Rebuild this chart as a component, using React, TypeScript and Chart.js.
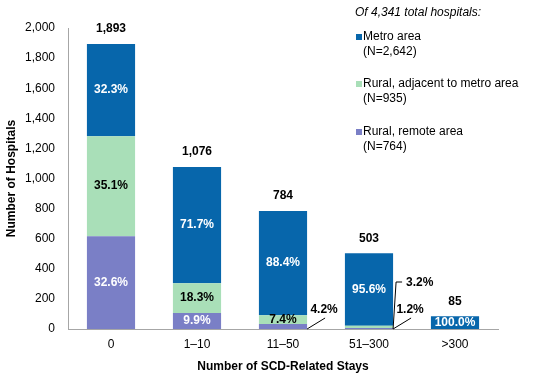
import React, { useEffect, useRef } from "react";
import { Chart, registerables } from "chart.js";

Chart.register(...registerables);

const categories = ["0", "1–10", "11–50", "51–300", ">300"];
const remoteValues = [617, 107, 33, 6, 0];
const adjacentValues = [664, 197, 58, 16, 0];
const metroValues = [612, 772, 693, 481, 85];
const yTicks = [0, 200, 400, 600, 800, 1000, 1200, 1400, 1600, 1800, 2000];

const seriesNames = ["Rural, remote area", "Rural, adjacent to metro area", "Metro area"];
const seriesN = ["(N=764)", "(N=935)", "(N=2,642)"];
const legendTitle = "Of 4,341 total hospitals:";
const COLORS = ["#7A7FC6", "#A9DFB8", "#0766AB"];
const LABEL_COLORS = ["#FFFFFF", "#000000", "#FFFFFF"];
const FONT = '"Liberation Sans", Arial, sans-serif';

const totals = categories.map((_, i) => remoteValues[i] + adjacentValues[i] + metroValues[i]);

const labelPlugin = {
  id: "segLabels",
  afterDatasetsDraw(chart: any) {
    const ctx = chart.ctx;
    const ys = chart.scales.y;
    const baseY = ys.getPixelForValue(0);
    ctx.save();
    ctx.font = `bold 12px ${FONT}`;
    ctx.textBaseline = "middle";
    categories.forEach((_, i) => {
      const total = totals[i];
      let callouts = 0;
      let cx = 0;
      chart.data.datasets.forEach((ds: any, di: number) => {
        const v = ds.data[i];
        const bar = chart.getDatasetMeta(di).data[i];
        const p = bar.getProps(["x", "y", "base", "width"], true);
        cx = p.x;
        if (!v) return;
        const pct = ((v / total) * 100).toFixed(1) + "%";
        const h = Math.abs(p.base - p.y);
        if (h >= 8) {
          ctx.fillStyle = LABEL_COLORS[di];
          ctx.textAlign = "center";
          ctx.fillText(pct, p.x, (p.y + p.base) / 2);
        } else {
          const right = p.x + p.width / 2;
          ctx.strokeStyle = "#000";
          ctx.lineWidth = 1;
          ctx.fillStyle = "#000";
          ctx.beginPath();
          if (callouts === 0) {
            ctx.moveTo(right, baseY);
            ctx.lineTo(right + 18, baseY - 11);
            ctx.stroke();
            ctx.textAlign = "center";
            ctx.fillText(pct, right + 17, baseY - 19);
          } else {
            ctx.moveTo(right, baseY);
            ctx.lineTo(right + 3, baseY - 47);
            ctx.lineTo(right + 9, baseY - 47);
            ctx.stroke();
            ctx.textAlign = "left";
            ctx.fillText(pct, right + 13, baseY - 46);
          }
          callouts++;
        }
      });
      ctx.fillStyle = "#000";
      ctx.textAlign = "center";
      ctx.fillText(total.toLocaleString("en-US"), cx, ys.getPixelForValue(total) - 15);
    });
    ctx.restore();
  },
};

const legendPlugin = {
  id: "customLegend",
  afterDraw(chart: any) {
    const ctx = chart.ctx;
    ctx.save();
    ctx.textBaseline = "middle";
    ctx.textAlign = "left";
    ctx.fillStyle = "#000";
    ctx.font = `italic 12px ${FONT}`;
    ctx.fillText(legendTitle, 355, 13);
    ctx.font = `12px ${FONT}`;
    const order = [2, 1, 0];
    const rowY = [37, 84, 132];
    order.forEach((di, k) => {
      const y0 = rowY[k];
      ctx.fillStyle = COLORS[di];
      ctx.fillRect(356, y0 - 3, 6, 6);
      ctx.fillStyle = "#000";
      ctx.fillText(seriesNames[di], 363, y0);
      ctx.fillText(seriesN[di], 363, y0 + 15);
    });
    ctx.restore();
  },
};

export default function App() {
  const ref = useRef<HTMLCanvasElement>(null);
  useEffect(() => {
    document.body.style.margin = "0";
    const values = [remoteValues, adjacentValues, metroValues];
    const chart = new Chart(ref.current!, {
      type: "bar",
      data: {
        labels: categories,
        datasets: values.map((d, i) => ({
          label: seriesNames[i],
          data: d,
          backgroundColor: COLORS[i],
          borderWidth: 0,
          categoryPercentage: 1,
          barPercentage: 0.56,
        })),
      },
      options: {
        animation: false,
        responsive: false,
        maintainAspectRatio: false,
        layout: { padding: { top: 28, right: 48, left: 0, bottom: 0 } },
        plugins: { legend: { display: false }, tooltip: { enabled: false } },
        scales: {
          x: {
            stacked: true,
            grid: { display: false },
            border: { display: true, color: "#A6A6A6", width: 1 },
            ticks: { color: "#000", font: { family: FONT, size: 12 }, padding: 0 },
            title: {
              display: true,
              text: "Number of SCD-Related Stays",
              color: "#000",
              font: { family: FONT, size: 12, weight: "bold" },
              padding: { top: 4, bottom: 4 },
            },
            afterFit: (s: any) => {
              s.height = 49;
            },
          },
          y: {
            stacked: true,
            min: 0,
            max: 2000,
            grid: { display: false },
            border: { display: true, color: "#A6A6A6", width: 1 },
            afterBuildTicks: (s: any) => {
              s.ticks = yTicks.map((v) => ({ value: v }));
            },
            ticks: {
              color: "#000",
              font: { family: FONT, size: 12 },
              padding: 5,
              callback: (v: any) => Number(v).toLocaleString("en-US"),
            },
            title: {
              display: true,
              text: "Number of Hospitals",
              color: "#000",
              font: { family: FONT, size: 12, weight: "bold" },
              padding: { top: 4, bottom: 4 },
            },
            afterFit: (s: any) => {
              s.width = 68;
            },
          },
        },
      },
      plugins: [labelPlugin, legendPlugin],
    });
    return () => chart.destroy();
  }, []);
  return (
    <div style={{ width: 546, height: 378 }}>
      <canvas ref={ref} width={546} height={378} style={{ display: "block" }} />
    </div>
  );
}
